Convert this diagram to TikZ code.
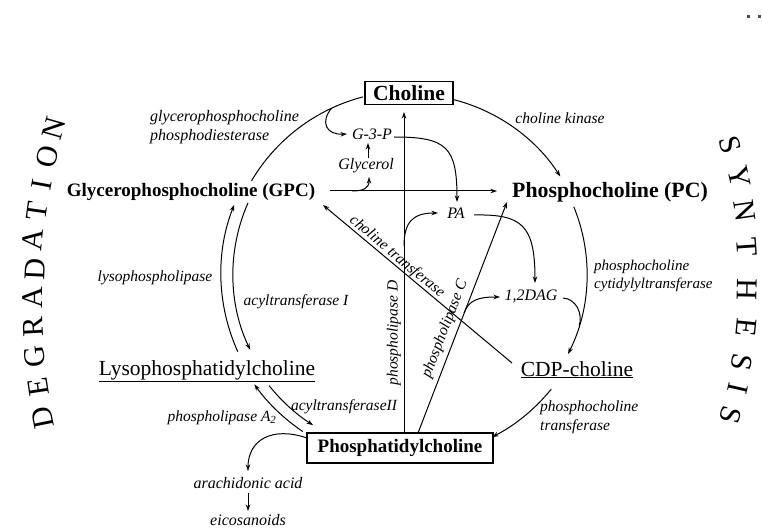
\documentclass[tikz,border=0pt]{standalone}
\usepackage{fontspec}
\setmainfont{Liberation Serif}
\usetikzlibrary{arrows.meta,calc}
\tikzset{
 conn/.style={line width=1pt, draw=black},
 arr/.style={conn, -{Stealth[length=6.5pt,width=4.5pt]}},
 enz/.style={font=\fontsize{15.5}{19}\selectfont\itshape, inner sep=0pt, align=left},
 met/.style={font=\fontsize{16}{19}\selectfont\itshape, inner sep=0pt},
 boxnode/.style={draw, line width=1.1pt, inner sep=0pt},
 boldA/.style={font=\fontsize{21.5}{24}\selectfont\bfseries, inner sep=0pt},
 boldB/.style={font=\fontsize{19}{23}\selectfont\bfseries, inner sep=0pt},
 boldC/.style={font=\fontsize{21.8}{25}\selectfont\bfseries, inner sep=0pt},
 under/.style={font=\fontsize{21.5}{25}\selectfont, inner sep=0pt},
 bigletter/.style={font=\fontsize{30}{32}\selectfont, inner sep=0pt},
 speck/.style={fill=black!70, draw=none},
}
\begin{document}
\begin{tikzpicture}[x=1pt,y=-1pt]
\useasboundingbox (0,0) rectangle (762,529);

% main metabolites
\node[boxnode, boldA, minimum width=88pt, minimum height=23pt] (cho) at (409,93) {Choline};
\node[boldB, anchor=base] (gpc) at (191,197) {Glycerophosphocholine (GPC)};
\node[boldC, anchor=base] (pc) at (610,198) {Phosphocholine (PC)};
\node[under, anchor=base] (lyso) at (207,375) {\underline{Lysophosphatidylcholine}};
\node[under, anchor=base] (cdp) at (577,376) {\underline{CDP-choline}};
\node[boxnode, boldB, minimum width=186pt, minimum height=30pt] (ptc) at (400,448) {Phosphatidylcholine};

% small metabolites
\node[met] (g3p) at (372,134) {G-3-P};
\node[met] (gly) at (366,166) {Glycerol};
\node[met] (pa) at (456,213) {PA};
\node[met] (dag) at (531,296) {1,2DAG};
\node[met] (aa) at (248,483) {arachidonic acid};
\node[met] (eic) at (248,520) {eicosanoids};

% enzyme labels
\node[enz, font=\fontsize{16}{19}\selectfont\itshape, anchor=west] (gpcpd) at (150,127) {glycerophosphocholine\\phosphodiesterase};
\node[enz] (ck) at (560,118) {choline kinase};
\node[enz, font=\fontsize{15}{18.5}\selectfont\itshape, anchor=west] (pcct) at (594,276) {phosphocholine\\cytidylyltransferase};
\node[enz, anchor=west] (pct) at (540,417) {phosphocholine\\transferase};
\node[enz] (lpl) at (155,278) {lysophospholipase};
\node[enz] (at1) at (296,302) {acyltransferase I};
\node[enz] (pla2) at (222,418) {phospholipase A\textsubscript{2}};
\node[enz] (at2) at (344,407) {acyltransferaseII};
\node[enz, rotate=90] (pldl) at (394,333) {phospholipase D};
\node[enz, rotate=68.9] (plcl) at (445,329) {phospholipase C};
\node[enz, rotate=-40] (ctl) at (397,257) {choline transferase};

% circle of the cycle
\coordinate (O) at (409,274);
\coordinate (a1) at ($(O)+(210.6:183)$);
\draw[conn] (a1) arc[start angle=210.6, end angle=255.4, radius=183];
\coordinate (a2) at ($(O)+(283.9:180)$);
\draw[arr] (a2) arc[start angle=283.9, end angle=327.2, radius=180];
\coordinate (a3) at ($(O)+(-22.2:178)$);
\draw[arr] (a3) arc[start angle=-22.2, end angle=26.7, radius=178];
\coordinate (a4) at ($(O)+(39:183)$);
\draw[arr] (a4) arc[start angle=39, end angle=63, radius=183];
\coordinate (a5) at ($(O)+(155.6:188)$);
\draw[arr] (a5) arc[start angle=155.6, end angle=201.6, radius=188];
\coordinate (a6) at ($(O)+(203.8:176)$);
\draw[arr] (a6) arc[start angle=203.8, end angle=154.5, radius=176];
\coordinate (a7) at ($(O)+(124:190)$);
\draw[arr] (a7) arc[start angle=124, end angle=144.5, radius=190];
\coordinate (a8) at ($(O)+(141.4:179)$);
\draw[arr] (a8) arc[start angle=141.4, end angle=122.4, radius=179];

% 1,2DAG merging into cytidylyltransferase arc
\coordinate (dagm) at ($(O)+(17:178)$);
\coordinate (dagE) at (563,298);
\draw[conn] (dagE) .. controls (576,299) and (583,313) .. (dagm);

% branch Choline arc -> G-3-P
\coordinate (gb) at ($(O)+(245:183)$);
\coordinate (g3pW) at (347,134);
\draw[arr] (gb) .. controls (320,122) and (326,135) .. (g3pW);

% straight connectors
\coordinate (hL) at (330,191);
\coordinate (hR) at (497,191);
\draw[arr] (hL) -- (hR);
\coordinate (pldB) at (404,433);
\coordinate (pldT) at (404,112);
\draw[arr] (pldB) -- (pldT);
\coordinate (plcB) at (418,433);
\coordinate (plcT) at (507,202);
\draw[arr] (plcB) -- (plcT);
\coordinate (ctB) at (512,363);
\coordinate (ctT) at (323,205);
\draw[arr] (ctB) -- (ctT);

% glycerol branch and glycerol -> G-3-P
\coordinate (glb) at (352,191);
\coordinate (glt) at (369,177);
\draw[arr] (glb) .. controls (364,191) and (369,188) .. (glt);
\coordinate (glN) at (368,158);
\coordinate (g3pS) at (368,143);
\draw[arr] (glN) -- (g3pS);

% G-3-P -> PA
\coordinate (g3pE) at (394,137);
\coordinate (paN) at (457,202);
\draw[arr] (g3pE) .. controls (447,137) and (457,147) .. (paN);

% PLD -> PA
\coordinate (pldPA) at (404,246);
\coordinate (paW) at (438,213);
\draw[arr] (pldPA) .. controls (404,222) and (413,213) .. (paW);

% PA -> 1,2DAG
\coordinate (paE) at (474,215);
\coordinate (dagN) at (535,283);
\draw[arr] (paE) .. controls (522,214) and (535,225) .. (dagN);

% PLC branch -> 1,2DAG
\coordinate (plcbr) at (464,313);
\coordinate (dagW) at (500,297);
\draw[arr] (plcbr) .. controls (469,300) and (478,297) .. (dagW);

% arachidonic acid branch
\coordinate (ptcA) at (307,438);
\coordinate (aaN) at (248,471);
\draw[arr] (ptcA) .. controls (272,426) and (248,440) .. (aaN);
\coordinate (aaS) at (248,493);
\coordinate (eicN) at (248,511);
\draw[arr] (aaS) -- (eicN);

% DEGRADATION / SYNTHESIS
\foreach \l/\x/\y [count=\i] in {D/43/418, E/38/387, G/35/357, R/33/327, A/33/298, D/35/269, A/33/240, T/37/211, I/42/185, O/47/157, N/54/128} {
  \pgfmathsetmacro\r{74.4+0.0938*(\y-130)}
  \node[bigletter, rotate=\r] (deg\i) at (\x,\y) {\l};
}
\foreach \l/\x/\y [count=\i] in {S/730/145, Y/739/177, N/745/211, T/747/247, H/747/290, E/746/328, S/742/362, I/738/389, S/731/415} {
  \pgfmathsetmacro\r{-90-0.118*(\y-280)}
  \node[bigletter, rotate=\r] (syn\i) at (\x,\y) {\l};
}

% two small specks at the top right
\fill[speck] (746.5,15.5) rectangle (749.5,18.5);
\fill[speck] (757.5,15.5) rectangle (760.5,18.5);
\end{tikzpicture}
\end{document}
